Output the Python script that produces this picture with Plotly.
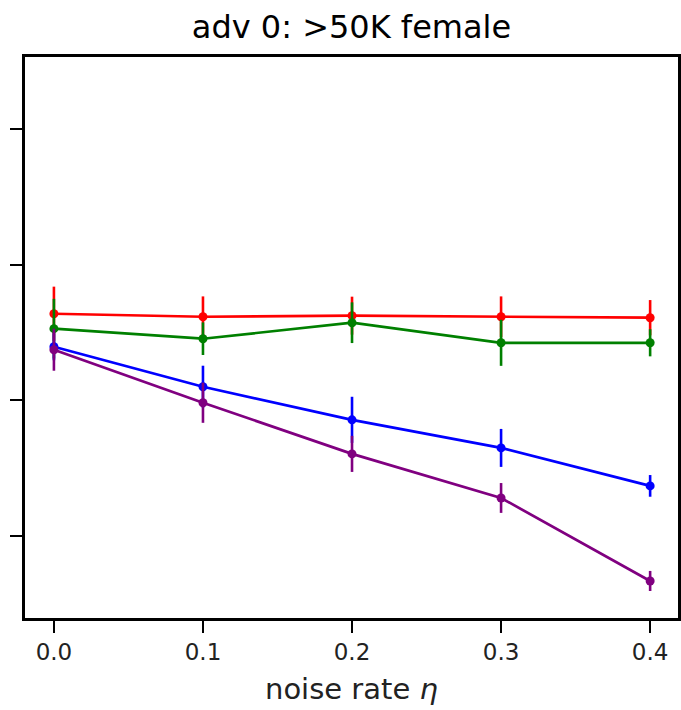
import plotly.graph_objects as go

noise_rate = [0.0, 0.1, 0.2, 0.3, 0.4]

red_vals = [0.7638, 0.7616, 0.7624, 0.7616, 0.7609]
red_err = [0.020, 0.015, 0.014, 0.015, 0.013]

green_vals = [0.7528, 0.7454, 0.7572, 0.7424, 0.7424]
green_err = [0.022, 0.012, 0.015, 0.017, 0.010]

blue_vals = [0.7395, 0.7100, 0.6856, 0.6649, 0.6369]
blue_err = [0.010, 0.0155, 0.017, 0.014, 0.008]

purple_vals = [0.7373, 0.6982, 0.6605, 0.6280, 0.5668]
purple_err = [0.0155, 0.0148, 0.0133, 0.011, 0.0074]

y_ticks = [0.6, 0.7, 0.8, 0.9]

series = [
    ("red", red_vals, red_err),
    ("green", green_vals, green_err),
    ("blue", blue_vals, blue_err),
    ("purple", purple_vals, purple_err),
]
colors = {"red": "#ff0000", "green": "#008000", "blue": "#0000ff", "purple": "#800080"}

fig = go.Figure()
for name, vals, errs in series:
    c = colors[name]
    fig.add_trace(go.Scatter(
        x=noise_rate, y=vals, name=name, mode="lines+markers",
        line=dict(color=c, width=2.7),
        marker=dict(color=c, size=9),
        error_y=dict(type="data", array=errs, visible=True, color=c, thickness=2.6, width=0),
    ))

W, H = 681, 710
L, R, T, B = 25, 0, 57, 710 - 618
fig.update_layout(
    width=W, height=H,
    margin=dict(l=L, r=R, t=T, b=B),
    paper_bgcolor="white", plot_bgcolor="white",
    showlegend=False,
    font=dict(family="DejaVu Sans", color="black"),
    title=dict(text="adv 0: >50K female", x=0.5, xanchor="center", xref="paper",
               y=1 - 27 / H, yanchor="middle", yref="container",
               font=dict(size=32, color="black", family="DejaVu Sans")),
    xaxis=dict(
        range=[-0.0194, 0.4187], tickvals=noise_rate, ticktext=["0.0", "0.1", "0.2", "0.3", "0.4"],
        ticks="outside", ticklen=12, tickwidth=2.2, tickcolor="black",
        showline=True, linecolor="black", linewidth=2.6, mirror=True,
        showgrid=False, zeroline=False,
        tickfont=dict(size=23, color="#222", family="DejaVu Sans"),
    ),
    yaxis=dict(
        range=[0.5395, 0.9531], tickvals=y_ticks, showticklabels=False,
        ticks="outside", ticklen=12, tickwidth=2.2, tickcolor="black",
        showline=True, linecolor="black", linewidth=2.6, mirror=True,
        showgrid=False, zeroline=False,
    ),
    annotations=[dict(
        text="noise rate <i>η</i>", xref="paper", yref="paper", x=0.5,
        y=-(689 - 618) / (H - T - B),
        xanchor="center", yanchor="middle", showarrow=False,
        font=dict(size=29, color="#222", family="DejaVu Sans"),
    )],
)

# remove the page's default body margin and scrollbars so the figure fills the window
fig.write_html(
    "out.html",
    config={"displayModeBar": False},
    post_script="document.body.style.margin='0';document.body.style.overflow='hidden';"
                "document.documentElement.style.overflow='hidden';",
)
